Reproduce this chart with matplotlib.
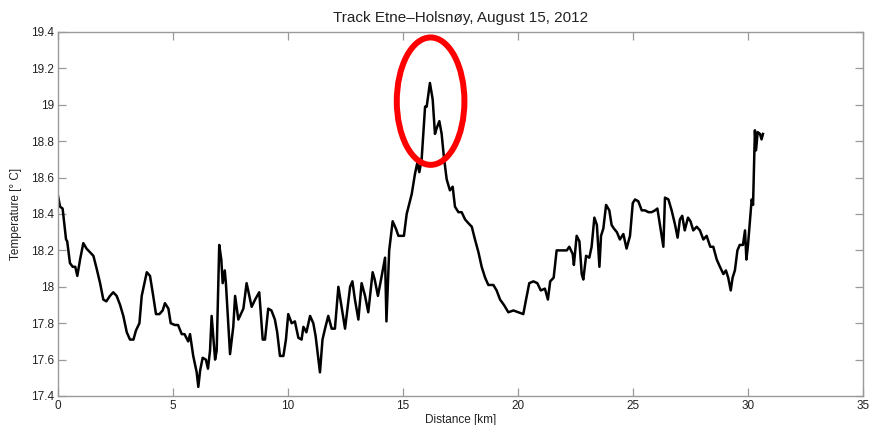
import matplotlib
matplotlib.use("Agg")
import matplotlib.pyplot as plt
import matplotlib.patches as mpatches
import numpy as np
from matplotlib.ticker import FormatStrFormatter, MultipleLocator, FuncFormatter

plt.rcParams['font.family'] = ['Liberation Sans', 'DejaVu Sans']

# Track Etne-Holsnoy: distance along track [km] and surface temperature [deg C]
distance_km = [
    0.0, 0.09, 0.2, 0.35, 0.4, 0.52, 0.64, 0.75, 0.84, 0.96, 1.1, 1.24, 1.39, 1.54, 1.68,
    1.83, 1.97, 2.1, 2.26, 2.4, 2.55, 2.7, 2.84, 2.99, 3.13, 3.28, 3.39, 3.54, 3.64, 3.86,
    4.0, 4.14, 4.26, 4.41, 4.55, 4.65, 4.8, 4.9, 5.08, 5.22, 5.38, 5.5, 5.66, 5.74, 5.88,
    6.03, 6.1, 6.18, 6.29, 6.43, 6.52, 6.61, 6.68, 6.75, 6.83, 6.9, 7.01, 7.1, 7.16, 7.25,
    7.3, 7.48, 7.62, 7.7, 7.84, 7.99, 8.06, 8.2, 8.3, 8.42, 8.57, 8.75, 8.9, 9.0, 9.14,
    9.28, 9.43, 9.53, 9.65, 9.8, 9.91, 10.01, 10.16, 10.3, 10.45, 10.59, 10.67, 10.8, 10.96,
    11.1, 11.2, 11.39, 11.5, 11.61, 11.75, 11.9, 12.04, 12.19, 12.33, 12.48, 12.7, 12.8,
    12.91, 13.06, 13.2, 13.35, 13.49, 13.68, 13.77, 13.91, 14.06, 14.22, 14.28, 14.4, 14.55,
    14.69, 14.8, 14.87, 15.04, 15.16, 15.28, 15.38, 15.52, 15.62, 15.71, 15.81, 15.96, 16.03,
    16.17, 16.29, 16.39, 16.46, 16.58, 16.68, 16.78, 16.9, 17.04, 17.16, 17.26, 17.41, 17.55,
    17.7, 17.84, 17.99, 18.13, 18.28, 18.42, 18.57, 18.71, 18.93, 19.07, 19.22, 19.39, 19.58,
    19.8, 20.01, 20.23, 20.35, 20.49, 20.67, 20.84, 20.99, 21.17, 21.3, 21.4, 21.55, 21.68,
    21.83, 21.98, 22.12, 22.23, 22.38, 22.43, 22.55, 22.67, 22.77, 22.84, 22.96, 23.1, 23.2,
    23.32, 23.43, 23.54, 23.61, 23.71, 23.83, 23.97, 24.07, 24.17, 24.3, 24.43, 24.58, 24.72,
    24.87, 24.99, 25.09, 25.23, 25.38, 25.52, 25.67, 25.81, 25.96, 26.06, 26.17, 26.32, 26.39,
    26.54, 26.68, 26.83, 26.94, 27.04, 27.14, 27.25, 27.39, 27.5, 27.62, 27.77, 27.91, 28.06,
    28.2, 28.36, 28.49, 28.64, 28.78, 28.93, 29.04, 29.14, 29.25, 29.33, 29.43, 29.54, 29.64,
    29.78, 29.87, 29.93, 30.0, 30.16, 30.22, 30.3, 30.35, 30.42, 30.52, 30.59, 30.65,
]
temperature_c = [
    18.50, 18.44, 18.43, 18.26, 18.25, 18.13, 18.11, 18.11, 18.06, 18.15, 18.24, 18.21, 18.19, 18.17, 18.10,
    18.02, 17.93, 17.92, 17.95, 17.97, 17.95, 17.90, 17.84, 17.75, 17.71, 17.71, 17.76, 17.80, 17.95, 18.08,
    18.06, 17.95, 17.85, 17.85, 17.87, 17.91, 17.88, 17.80, 17.79, 17.79, 17.74, 17.74, 17.70, 17.74, 17.62,
    17.53, 17.45, 17.54, 17.61, 17.60, 17.55, 17.65, 17.84, 17.73, 17.60, 17.65, 18.23, 18.15, 18.02, 18.09,
    18.02, 17.63, 17.78, 17.95, 17.82, 17.86, 17.88, 18.02, 17.96, 17.89, 17.93, 17.97, 17.71, 17.71, 17.88,
    17.87, 17.82, 17.75, 17.62, 17.62, 17.71, 17.85, 17.80, 17.81, 17.72, 17.71, 17.78, 17.75, 17.84,
    17.80, 17.73, 17.53, 17.71, 17.77, 17.84, 17.77, 17.77, 18.00, 17.89, 17.77, 18.00, 18.03,
    17.93, 17.82, 18.02, 17.95, 17.86, 18.08, 18.04, 17.95, 18.05, 18.16, 17.81, 18.20, 18.36,
    18.32, 18.28, 18.28, 18.28, 18.40, 18.46, 18.51, 18.62, 18.68, 18.63, 18.70, 18.99, 18.99,
    19.12, 19.03, 18.84, 18.87, 18.91, 18.84, 18.71, 18.59, 18.53, 18.55, 18.44, 18.41, 18.41,
    18.37, 18.35, 18.33, 18.26, 18.19, 18.11, 18.05, 18.01, 18.01, 17.98, 17.93, 17.90, 17.86,
    17.87, 17.86, 17.85, 17.93, 18.02, 18.03, 18.02, 17.98, 17.99, 17.93, 18.03, 18.05, 18.20,
    18.20, 18.20, 18.20, 18.22, 18.18, 18.12, 18.28, 18.25, 18.07, 18.04, 18.17, 18.16, 18.22,
    18.38, 18.34, 18.11, 18.28, 18.32, 18.45, 18.42, 18.34, 18.32, 18.30, 18.26, 18.29, 18.21,
    18.28, 18.46, 18.48, 18.47, 18.42, 18.42, 18.41, 18.41, 18.42, 18.43, 18.34, 18.22, 18.49,
    18.48, 18.42, 18.34, 18.27, 18.37, 18.39, 18.31, 18.38, 18.36, 18.31, 18.33, 18.31, 18.26,
    18.28, 18.22, 18.22, 18.15, 18.11, 18.07, 18.09, 18.05, 17.98, 18.05, 18.09, 18.20, 18.23,
    18.23, 18.31, 18.15, 18.23, 18.48, 18.45, 18.86, 18.75, 18.85, 18.84, 18.81, 18.84,
]

fig = plt.figure(figsize=(8.69, 4.25), dpi=100)
ax = fig.add_axes([58 / 869, 1 - 396 / 425, 805 / 869, 364 / 425])

ax.plot(distance_km, temperature_c, color='black', linewidth=1.8, solid_joinstyle='round')

# circle the warm peak
i_max = int(np.argmax(temperature_c))
ring = mpatches.Ellipse((distance_km[i_max] + 0.03, temperature_c[i_max] - 0.10),
                        width=2.94, height=0.70, fill=False,
                        edgecolor='#ff0000', linewidth=4.3, zorder=5)
ax.add_patch(ring)

ax.set_xlim(0, 35)
ax.set_ylim(17.4, 19.4)
ax.xaxis.set_major_locator(MultipleLocator(5))
ax.yaxis.set_major_locator(MultipleLocator(0.2))
ax.yaxis.set_major_formatter(FuncFormatter(lambda v, p: f"{v:g}"))

for sp in ax.spines.values():
    sp.set_color('#9a9a9a')
    sp.set_linewidth(1.0)
ax.tick_params(direction='in', top=True, right=True, length=6, width=0.9,
               color='#9a9a9a', labelsize=8.5, labelcolor='#222222', pad=3)

ax.set_title('Track Etne\u2013Holsn\u00f8y, August 15, 2012', fontsize=11, color='#222222', pad=7)
ax.set_xlabel('Distance [km]', fontsize=8.5, color='#222222', labelpad=1)
ax.set_ylabel('Temperature [\u00b0 C]', fontsize=8.5, color='#222222', labelpad=6)

fig.savefig('out.png', dpi=100)
